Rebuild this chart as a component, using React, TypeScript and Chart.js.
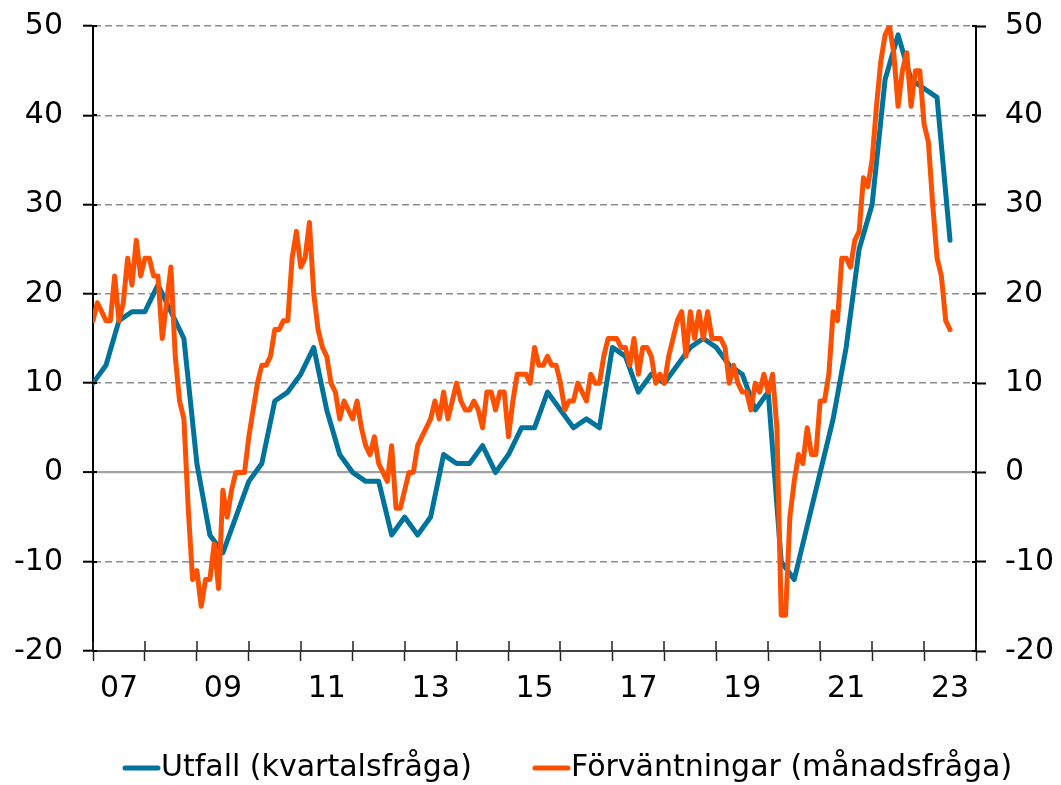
import React, { useEffect, useRef } from 'react';
import { Chart, registerables } from 'chart.js';

Chart.register(...registerables);

// ---- Data ----
const START_YEAR = 2007;
const END_YEAR = 2024;
const yTickValues = [-20, -10, 0, 10, 20, 30, 40, 50];
const labeledYears = [2007, 2009, 2011, 2013, 2015, 2017, 2019, 2021, 2023];
const yearLabels = ['07', '09', '11', '13', '15', '17', '19', '21', '23'];
const seriesLabels = ['Utfall (kvartalsfråga)', 'Förväntningar (månadsfråga)'];

// Quarterly, from 2007 Q1
const utfall = [
  10, 12, 17, 18,
  18, 21, 18, 15,
  1, -7, -9, -5,
  -1, 1, 8, 9,
  11, 14, 7, 2,
  0, -1, -1, -7,
  -5, -7, -5, 2,
  1, 1, 3, 0,
  2, 5, 5, 9,
  7, 5, 6, 5,
  14, 13, 9, 11,
  10, 12, 14, 15,
  14, 12, 11, 7,
  9, -10, -12, -6,
  0, 6, 14, 25,
  30, 44, 49, 44,
  43, 42, 26,
];

// Monthly, from January 2007
const forvantningar = [
  17, 19, 18, 17, 17, 22, 17, 19, 24, 21, 26, 22,
  24, 24, 22, 22, 15, 19, 23, 13, 8, 6, -4, -12,
  -11, -15, -12, -12, -8, -13, -2, -5, -2, 0, 0, 0,
  4, 7, 10, 12, 12, 13, 16, 16, 17, 17, 24, 27,
  23, 24, 28, 20, 16, 14, 13, 10, 9, 6, 8, 7,
  6, 8, 5, 3, 2, 4, 1, 0, -1, 3, -4, -4,
  -2, 0, 0, 3, 4, 5, 6, 8, 6, 9, 6, 8,
  10, 8, 7, 7, 8, 7, 5, 9, 9, 7, 9, 9,
  4, 8, 11, 11, 11, 10, 14, 12, 12, 13, 12, 12,
  10, 7, 8, 8, 10, 9, 8, 11, 10, 10, 13, 15,
  15, 15, 14, 14, 12, 15, 11, 14, 14, 13, 10, 11,
  10, 13, 15, 17, 18, 13, 18, 15, 18, 15, 18, 15,
  15, 15, 14, 10, 12, 10, 9, 9, 7, 10, 9, 11,
  9, 11, 5, -16, -16, -5, -1, 2, 1, 5, 2, 2,
  8, 8, 11, 18, 17, 24, 24, 23, 26, 27, 33, 32,
  35, 41, 46, 49, 50, 47, 41, 45, 47, 41, 45, 45,
  39, 37, 30, 24, 22, 17, 16,
];

const BLUE = '#00739B';
const ORANGE = '#FF5000';
const FONT_FAMILY = '"DejaVu Sans", Verdana, sans-serif';

const innerTicksPlugin = {
  id: 'innerTicks',
  afterDraw(chart: any) {
    const { ctx, chartArea, scales } = chart;
    ctx.save();
    ctx.strokeStyle = '#222';
    ctx.lineWidth = 1.5;
    const xs = scales.x;
    xs.ticks.forEach((t: any) => {
      const px = Math.round(xs.getPixelForValue(t.value));
      ctx.beginPath();
      ctx.moveTo(px, chartArea.bottom);
      ctx.lineTo(px, chartArea.bottom - 10);
      ctx.stroke();
    });
    ctx.strokeStyle = '#000';
    ctx.lineWidth = 2;
    const ys = scales.y;
    ys.ticks.forEach((t: any) => {
      const py = Math.round(ys.getPixelForValue(t.value));
      ctx.beginPath();
      ctx.moveTo(chartArea.left, py);
      ctx.lineTo(chartArea.left + 4, py);
      ctx.stroke();
      ctx.beginPath();
      ctx.moveTo(chartArea.right, py);
      ctx.lineTo(chartArea.right - 4, py);
      ctx.stroke();
    });
    ctx.restore();
  },
};

const lineLegendPlugin = {
  id: 'lineLegend',
  afterDraw(chart: any) {
    const { ctx } = chart;
    ctx.save();
    ctx.font = `30px ${FONT_FAMILY}`;
    ctx.textBaseline = 'middle';
    ctx.textAlign = 'left';
    const y = 768;
    let x = 123;
    const sample = 37;
    chart.data.datasets.forEach((ds: any) => {
      ctx.strokeStyle = ds.borderColor;
      ctx.lineWidth = 5;
      ctx.lineCap = 'round';
      ctx.beginPath();
      ctx.moveTo(x + 2, y);
      ctx.lineTo(x + sample - 2, y);
      ctx.stroke();
      ctx.fillStyle = '#000';
      ctx.fillText(ds.label, x + sample + 1, y);
      x += sample + 1 + ctx.measureText(ds.label).width + 61;
    });
    ctx.restore();
  },
};

function yearLabel(value: number): string {
  const idx = labeledYears.indexOf(Math.round(value));
  return idx >= 0 ? yearLabels[idx] : '';
}

export default function App() {
  const canvasRef = useRef<HTMLCanvasElement | null>(null);

  useEffect(() => {
    if (!canvasRef.current) return;
    const tickFont = { family: FONT_FAMILY, size: 30 };
    const isZero = (c: any) => c && c.tick && c.tick.value === 0;

    const chart = new Chart(canvasRef.current, {
      type: 'line',
      data: {
        datasets: [
          {
            label: seriesLabels[0],
            data: utfall.map((v, i) => ({ x: START_YEAR + i / 4, y: v })),
            borderColor: BLUE,
            backgroundColor: BLUE,
            borderWidth: 5,
            pointRadius: 0,
            borderJoinStyle: 'round',
            borderCapStyle: 'round',
            order: 2,
            yAxisID: 'y',
          },
          {
            label: seriesLabels[1],
            data: forvantningar.map((v, i) => ({ x: START_YEAR + i / 12, y: v })),
            borderColor: ORANGE,
            backgroundColor: ORANGE,
            borderWidth: 5,
            pointRadius: 0,
            borderJoinStyle: 'round',
            borderCapStyle: 'round',
            order: 1,
            yAxisID: 'y',
          },
        ],
      },
      options: {
        animation: false,
        responsive: false,
        devicePixelRatio: 1,
        layout: { padding: { left: 0, right: 0, top: 26, bottom: 74 } },
        plugins: {
          legend: { display: false },
          tooltip: { enabled: false },
        },
        elements: { line: { tension: 0 }, point: { radius: 0 } },
        scales: {
          x: {
            type: 'linear',
            min: START_YEAR,
            max: END_YEAR,
            ticks: {
              stepSize: 1,
              autoSkip: false,
              maxRotation: 0,
              minRotation: 0,
              labelOffset: 26,
              padding: 10,
              color: '#000',
              font: tickFont,
              callback: (v: any) => yearLabel(Number(v)),
            },
            grid: {
              drawOnChartArea: false,
              drawTicks: true,
              tickLength: 10,
              tickColor: '#222',
              tickWidth: 1.5,
            },
            border: { color: '#404040', width: 2 },
            afterFit: (s: any) => {
              s.height = 60;
              s.paddingLeft = 0;
              s.paddingRight = 0;
            },
          },
          y: {
            position: 'left',
            min: yTickValues[0],
            max: yTickValues[yTickValues.length - 1],
            afterBuildTicks: (s: any) => {
              s.ticks = yTickValues.map((v) => ({ value: v }));
            },
            ticks: { padding: 20, color: '#000', font: tickFont },
            grid: {
              drawOnChartArea: true,
              drawTicks: true,
              tickLength: 10,
              tickColor: '#000',
              tickWidth: 2,
              color: (c: any) => (isZero(c) ? '#a3a3a3' : '#8c8c8c'),
              lineWidth: (c: any) => (isZero(c) ? 2.2 : 1.4),
            },
            border: {
              color: '#000',
              width: 2,
              dash: (c: any) => (isZero(c) ? [] : [7, 4]),
            },
            afterFit: (s: any) => {
              s.width = 93;
              s.paddingTop = 0;
              s.paddingBottom = 0;
            },
          },
          y2: {
            position: 'right',
            min: yTickValues[0],
            max: yTickValues[yTickValues.length - 1],
            afterBuildTicks: (s: any) => {
              s.ticks = yTickValues.map((v) => ({ value: v }));
            },
            ticks: { padding: 19, color: '#000', font: tickFont },
            grid: {
              drawOnChartArea: false,
              drawTicks: true,
              tickLength: 10,
              tickColor: '#000',
              tickWidth: 2,
            },
            border: { color: '#000', width: 2 },
            afterFit: (s: any) => {
              s.width = 85;
              s.paddingTop = 0;
              s.paddingBottom = 0;
            },
          },
        },
      } as any,
      plugins: [innerTicksPlugin, lineLegendPlugin],
    });

    return () => {
      chart.destroy();
    };
  }, []);

  return (
    <div style={{ position: 'absolute', left: 0, top: 0, width: 1061, height: 785, background: '#fff' }}>
      <canvas ref={canvasRef} width={1061} height={785} style={{ display: 'block', width: 1061, height: 785 }} />
    </div>
  );
}
